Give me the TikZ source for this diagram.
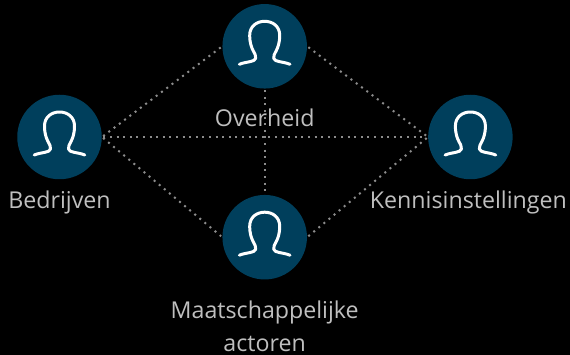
\documentclass[tikz,border=0pt]{standalone}
\usepackage{fontspec}
\usepackage{xcolor}
\setmainfont{Open Sans}
\usetikzlibrary{positioning}
\definecolor{circleblue}{HTML}{003F5C}
\definecolor{labelgray}{HTML}{BFBFBF}
\definecolor{linegray}{HTML}{8C8C8C}

\begin{document}
\begin{tikzpicture}[x=1pt,y=1pt,shorten >=1.5pt,shorten <=1.5pt,
                    main node/.style={circle,fill=circleblue,minimum size=84.5pt,inner sep=0pt},
                    name node/.style={text=labelgray,font=\fontsize{23.2}{33}\selectfont,align=center},
                    link/.style={draw=linegray,line width=2pt,dash pattern=on 2pt off 4.6pt},
                    icon/.style={draw=white,line width=3pt,line cap=round,line join=round,shorten >=0pt,shorten <=0pt}]

  \fill[black] (0,0) rectangle (570,-355);
  \useasboundingbox (0,0) rectangle (570,-355);

  \node[main node] (overheid) at (264.7,-46.3) {};
  \node[main node] (bedrijven) at (59.5,-137) {};
  \node[main node] (kennis) [right=326pt of bedrijven] {};
  \node[main node] (actoren) [below=106pt of overheid] {};

  \path[link]
    (bedrijven.east) edge (overheid.west)
                     edge (actoren.west)
                     edge (kennis.west)
    (overheid.east) edge (kennis.west)
    (overheid.south) edge (actoren.north)
    (actoren.east) edge (kennis.west)
    ;

  \node[name node] (lboverheid) [below=17pt of overheid] {Overheid};
  \node[name node] (lbbedrijven) [below=7.5pt of bedrijven] {Bedrijven};
  \node[name node] (lbkennis) [below=7.5pt of kennis,xshift=-2pt] {Kennisinstellingen};
  \node[name node] (lbactoren) [below=18pt of actoren] {Maatschappelijke\\actoren};

  \foreach \n in {overheid,bedrijven,kennis,actoren}
    \draw[icon,shift={(\n)}] (-25.3,-18) .. controls (-18,-15) and (-10,-16) .. (-9,-12)
      .. controls (-8,-7) and (-15,-4) .. (-15,11)
      .. controls (-15,20) and (-8,25) .. (0,25)
      .. controls (8,25) and (15,20) .. (15,11)
      .. controls (15,-4) and (8,-7) .. (9,-12)
      .. controls (10,-16) and (18,-15) .. (25.3,-18);
\end{tikzpicture}
\end{document}
